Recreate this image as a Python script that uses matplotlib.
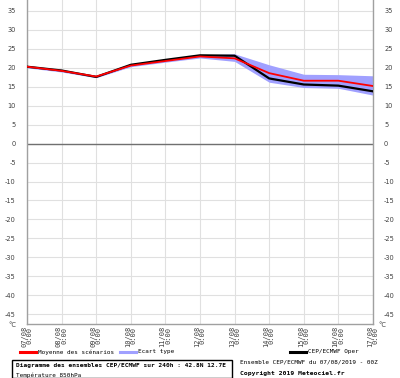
import numpy as np
import matplotlib
matplotlib.use("Agg")
import matplotlib.pyplot as plt

# dates of the forecast (one per day)
dates = ["07/08", "08/08", "09/08", "10/08", "11/08", "12/08",
         "13/08", "14/08", "15/08", "16/08", "17/08"]
hours = ["0:00"] * len(dates)

# values (°C at 850 hPa)
moyenne = [20.3, 19.2, 17.7, 20.6, 21.8, 23.0, 22.5, 18.6, 16.6, 16.6, 15.2]
oper = [20.3, 19.3, 17.6, 20.8, 22.1, 23.3, 23.2, 17.2, 15.6, 15.3, 13.8]
ecart_haut = [20.6, 19.5, 18.0, 21.0, 22.2, 23.4, 23.7, 20.8, 18.3, 18.2, 17.9]
ecart_bas = [20.0, 18.9, 17.4, 20.3, 21.5, 22.6, 21.7, 16.2, 14.8, 14.6, 12.8]

yticks = list(range(-45, 40, 5))

fig = plt.figure(figsize=(4.0, 3.78), dpi=100)
ax = fig.add_axes([0.0675, 0.1429, 0.865, 0.8571])
ax.set_axisbelow(True)

x = np.arange(len(dates))
ax.axhline(0, color="#707070", lw=1.0, zorder=1.5)
ax.fill_between(x, ecart_bas, ecart_haut, color="#a0a0ff", lw=0, zorder=2)
ax.plot(x, oper, color="black", lw=1.6, zorder=3)
ax.plot(x, moyenne, color="#ff0000", lw=1.3, zorder=4)

ax.set_xlim(0, len(dates) - 1)
ax.set_ylim(-47.6, 37.9)
ax.set_yticks(yticks)
ax.set_yticklabels([str(v) for v in yticks])
ax.set_xticks(x)
ax.set_xticklabels([d + "\n" + h for d, h in zip(dates, hours)],
                   rotation=90, fontsize=5, family="DejaVu Sans Mono",
                   linespacing=0.9)
ax.grid(True, color="#e0e0e0", lw=0.8)
ax.tick_params(axis="y", labelsize=4.8, colors="#404040", length=0, pad=8,
               labelright=True, right=False)
ax.tick_params(axis="x", length=0, pad=1, colors="#404040")
ax.spines["top"].set_visible(False)
for s in ["left", "right", "bottom"]:
    ax.spines[s].set_color("#a0a0a0")
    ax.spines[s].set_linewidth(1.0)

fig.text(0.02, 0.135, "°C", fontsize=4.8, color="#404040")
fig.text(0.945, 0.135, "°C", fontsize=4.8, color="#404040")

# legend row
mono = "DejaVu Sans Mono"
fig.lines.append(plt.Line2D([0.05, 0.09], [0.069, 0.069], color="#ff0000",
                            lw=2.2, transform=fig.transFigure))
fig.text(0.095, 0.069, "Moyenne des scénarios", fontsize=4.3, family=mono,
         va="center")
fig.lines.append(plt.Line2D([0.30, 0.34], [0.069, 0.069], color="#a0a0ff",
                            lw=2.2, transform=fig.transFigure))
fig.text(0.345, 0.069, "Ecart type", fontsize=4.3, family=mono, va="center")
fig.lines.append(plt.Line2D([0.725, 0.765], [0.069, 0.069], color="black",
                            lw=2.2, transform=fig.transFigure))
fig.text(0.77, 0.069, "CEP/ECMWF Oper", fontsize=4.3, family=mono, va="center")

# info box
fig.patches.append(plt.Rectangle((0.03, 0.0), 0.55, 0.048, fill=False,
                                 ec="black", lw=1.0,
                                 transform=fig.transFigure))
fig.text(0.04, 0.032, "Diagramme des ensembles CEP/ECMWF sur 240h : 42.8N 12.7E",
         fontsize=4.4, family=mono, weight="bold", va="center")
fig.text(0.04, 0.008, "Température 850hPa", fontsize=4.3, family=mono,
         va="center")
fig.text(0.60, 0.042, "Ensemble CEP/ECMWF du 07/08/2019 - 00Z", fontsize=4.3,
         family=mono, va="center")
fig.text(0.60, 0.013, "Copyright 2019 Meteociel.fr", fontsize=4.6,
         family=mono, weight="bold", va="center")

fig.savefig("out.png", dpi=100)
